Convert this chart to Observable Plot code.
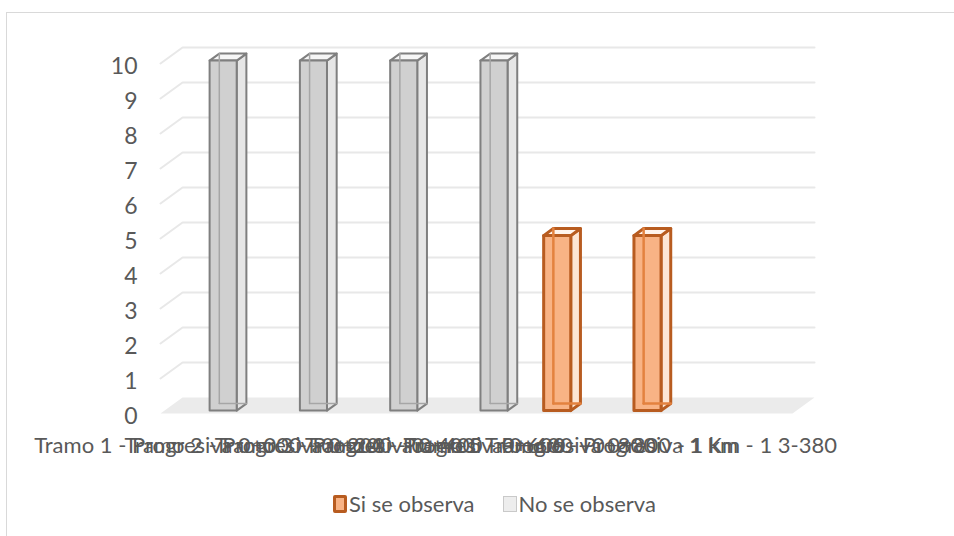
<!DOCTYPE html>
<html>
<head>
<meta charset="utf-8">
<script src="https://cdn.jsdelivr.net/npm/d3@7"></script>
<script src="https://cdn.jsdelivr.net/npm/@observablehq/plot@0.6"></script>
<style>
  html, body { margin: 0; padding: 0; background: #fff; }
  #chart { position: relative; width: 954px; height: 536px; overflow: hidden; font-family: Lato, "Open Sans", sans-serif; color: #595959; }
  #frame { position: absolute; left: 6px; top: 12px; width: 1000px; height: 600px; border-top: 1.5px solid #d9d9d9; border-left: 1.5px solid #d9d9d9; }
  #plot { position: absolute; left: 0; top: 0; }
  #legend { position: absolute; left: 333px; top: 490px; display: flex; align-items: center; font-size: 22px; }
  .key { display: flex; align-items: center; margin-right: 28px; }
  .sw { box-sizing: border-box; display: inline-block; margin-right: 2px; }
  .sw.si { width: 14px; height: 18px; background: #f8b385; border: 3px solid #b85c20; border-radius: 2px; }
  .sw.no { width: 14px; height: 16px; background: #ededed; border: 1.5px solid #c9c9c9; }
</style>
</head>
<body>
<div id="chart">
  <div id="frame"></div>
  <div id="plot"></div>
  <div id="legend">
    <span class="key"><span class="sw si"></span><span>Si se observa</span></span>
    <span class="key"><span class="sw no"></span><span>No se observa</span></span>
  </div>
</div>
<script>
// Tramos evaluated (the last slot of the table is blank)
const categories = [
  "Tramo 1 - Progresiva 0+000 - 0+200",
  "Tramo 2 - Progresiva 0+200 - 0+400",
  "Tramo 3 - Progresiva 0+400 - 0+600",
  "Tramo 4 - Progresiva 0+600 - 0+800",
  "Tramo 5 - Progresiva 0+800 - 1 km",
  "Tramo 6 - Progresiva 1 Km - 1 3-380",
  ""
];
const seriesNames = ["Si se observa", "No se observa"];
const siSeObserva = [null, null, null, null, 5, 5, null];
const noSeObserva = [10, 10, 10, 10, null, null, null];
const yTicks = [0, 1, 2, 3, 4, 5, 6, 7, 8, 9, 10];

// Oblique projection of the 3-D chart box: full depth shifts right and up
const depthX = 0.244;   // in category units
const depthY = 0.457;   // in value units
const barFront = 0.18, barBack = 0.62;  // bar depth, fraction of box depth
const barStart = 0.2, barWidth = 0.3;   // bar placement inside a category

const styles = {
  "Si se observa": {front: "#f8b385", side: "#fde6d5", top: "#fff4ec", stroke: "#b85c20", hidden: "#e3823f", width: 3},
  "No se observa": {front: "#d0d0d0", side: "#e6e6e6", top: "#f6f6f6", stroke: "#7f7f7f", hidden: "#a6a6a6", width: 2}
};

const rows = categories.flatMap((category, index) => [
  {category, index, series: seriesNames[0], value: siSeObserva[index]},
  {category, index, series: seriesNames[1], value: noSeObserva[index]}
]).filter(d => d.value != null);

const P = (x, v, f) => ({x: x + f * depthX, y: v + f * depthY});
const n = categories.length;

// Floor and walls
const floor = [P(0, 0, 0), P(n, 0, 0), P(n, 0, 1), P(0, 0, 1), P(0, 0, 0)];
const grid = yTicks.filter(v => v > 0).flatMap(v => [
  {...P(0, v, 0), v}, {...P(0, v, 1), v}, {...P(n, v, 1), v}
]);

// Faces of every bar
function faces(kind) {
  return rows.flatMap((d, i) => {
    const slot = seriesNames.indexOf(d.series);
    const x0 = d.index + barStart + slot * barWidth, x1 = x0 + barWidth;
    const v = d.value, a = barFront, b = barBack;
    let pts;
    if (kind === "front") pts = [P(x0, 0, a), P(x1, 0, a), P(x1, v, a), P(x0, v, a), P(x0, 0, a)];
    if (kind === "side") pts = [P(x1, 0, a), P(x1, 0, b), P(x1, v, b), P(x1, v, a), P(x1, 0, a)];
    if (kind === "top") pts = [P(x0, v, a), P(x1, v, a), P(x1, v, b), P(x0, v, b), P(x0, v, a)];
    if (kind === "hiddenV") pts = [P(x0, 0, b), P(x0, v, b)];
    if (kind === "hiddenH") pts = [P(x0, 0, b), P(x1, 0, b)];
    return pts.map(p => ({...p, id: i, series: d.series}));
  });
}

const barMarks = seriesNames.flatMap(s => {
  const st = styles[s];
  const pick = kind => faces(kind).filter(p => p.series === s);
  const common = {x: "x", y: "y", z: "id", stroke: st.stroke, strokeWidth: st.width, strokeLinejoin: "round"};
  return [
    Plot.line(pick("side"), {...common, fill: st.side}),
    Plot.line(pick("top"), {...common, fill: st.top}),
    Plot.line(pick("front"), {...common, fill: st.front}),
    Plot.line(pick("hiddenV"), {x: "x", y: "y", z: "id", stroke: st.hidden, strokeWidth: st.width - 0.5}),
    Plot.line(pick("hiddenH"), {x: "x", y: "y", z: "id", stroke: st.hidden, strokeWidth: st.width - 0.5})
  ];
});

const labelled = categories.map((c, i) => i).filter(i => categories[i] !== "");

const chart = Plot.plot({
  width: 954,
  height: 470,
  marginLeft: 160,
  marginRight: 162,
  marginTop: 63,
  marginBottom: 57,
  style: {fontFamily: "Lato, 'Open Sans', sans-serif", color: "#595959", background: "transparent", overflow: "visible"},
  x: {type: "linear", domain: [0, n], axis: null},
  y: {type: "linear", domain: [0, 10], axis: null},
  marks: [
    Plot.line(grid, {x: "x", y: "y", z: "v", stroke: "#e8e8e8", strokeWidth: 2}),
    Plot.line(floor, {x: "x", y: "y", fill: "#ebebeb", stroke: "none"}),
    ...barMarks,
    Plot.axisY({ticks: yTicks, tickSize: 0, tickPadding: 23, fontSize: 23, dy: 3, label: null, tickFormat: d => String(d)}),
    Plot.axisX({ticks: labelled.map(i => i + 0.5), tickSize: 0, tickPadding: 24, fontSize: 22, dx: 4, label: null,
      tickFormat: v => categories[Math.floor(v)]})
  ]
});
document.getElementById("plot").appendChild(chart);
</script>
</body>
</html>
